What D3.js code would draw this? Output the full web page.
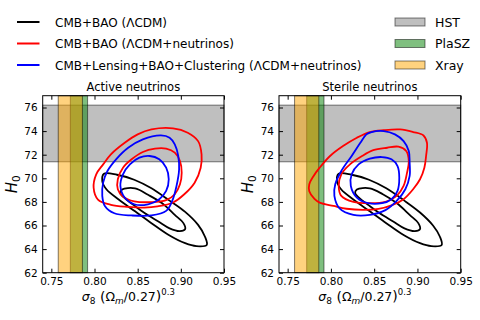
<!DOCTYPE html>
<html>
<head>
<meta charset="utf-8">
<title>H0 vs sigma8</title>
<script src="https://d3js.org/d3.v7.min.js"></script>
<style>
body { margin:0; background:#fff; }
text { font-family:"DejaVu Sans", sans-serif; }
</style>
</head>
<body>
<script>

var legendLabels = ["CMB+BAO (ΛCDM)", "CMB+BAO (ΛCDM+neutrinos)", "CMB+Lensing+BAO+Clustering (ΛCDM+neutrinos)"];
var lineColors = ["#000000", "#ff0000", "#0000ff"];
var bandLabels = ["HST", "PlaSZ", "Xray"];
var bandColors = ["#808080", "#008000", "#ffa500"];
var hstRange = [71.4, 76.2];     // H0
var plaszRange = [0.772, 0.792]; // sigma8 (Om/0.27)^0.3
var xrayRange = [0.758, 0.786];
var panelTitles = ["Active neutrinos", "Sterile neutrinos"];
var xTicks = [0.75, 0.80, 0.85, 0.90, 0.95];
var yTicks = [62, 64, 66, 68, 70, 72, 74, 76];
var xDomain = [0.74, 0.95];
var yDomain = [62, 77];

// contours: [sigma8 (Om/0.27)^0.3, H0]
var activeBlackOuter = [[0.811,70.38],[0.826,70.30],[0.846,69.88],[0.866,69.15],[0.886,68.15],[0.905,67.15],[0.920,66.05],[0.928,65.05],[0.930,64.35],[0.918,64.25],[0.905,64.50],[0.886,65.20],[0.866,66.20],[0.847,67.20],[0.828,68.20],[0.814,69.05],[0.809,69.75]];
var activeBlackInner = [[0.832,69.05],[0.847,69.15],[0.862,68.60],[0.878,67.90],[0.893,66.90],[0.903,66.20],[0.905,65.70],[0.899,65.52],[0.887,65.75],[0.874,66.33],[0.858,67.05],[0.845,67.75],[0.835,68.32],[0.830,68.75]];
var activeRedOuter = [[0.866,74.14],[0.891,74.23],[0.908,73.86],[0.920,73.15],[0.924,72.03],[0.923,70.90],[0.916,69.63],[0.904,68.65],[0.891,67.95],[0.873,67.62],[0.858,67.52],[0.839,67.58],[0.819,67.75],[0.804,68.20],[0.799,69.20],[0.802,70.34],[0.810,71.18],[0.819,72.03],[0.835,73.01],[0.850,73.72]];
var activeRedInner = [[0.870,72.51],[0.883,72.51],[0.893,72.17],[0.899,71.46],[0.901,70.48],[0.899,69.49],[0.893,68.65],[0.883,68.15],[0.866,67.98],[0.846,68.05],[0.833,68.45],[0.827,69.07],[0.827,69.92],[0.833,70.90],[0.843,71.61],[0.856,72.23]];
var activeBlueOuter = [[0.877,73.63],[0.887,73.44],[0.893,72.87],[0.897,71.89],[0.898,70.76],[0.895,69.35],[0.890,68.08],[0.883,67.24],[0.866,66.85],[0.843,66.85],[0.823,67.04],[0.812,67.66],[0.809,68.51],[0.810,69.63],[0.815,70.62],[0.825,71.61],[0.839,72.59],[0.856,73.30]];
var activeBlueInner = [[0.864,71.89],[0.875,71.61],[0.883,70.90],[0.886,69.92],[0.883,68.93],[0.875,68.23],[0.862,67.80],[0.846,67.80],[0.835,68.37],[0.830,69.35],[0.833,70.34],[0.841,71.18],[0.852,71.75]];

var sterileBlackOuter = [[0.809,70.38],[0.824,70.30],[0.844,69.88],[0.864,69.15],[0.884,68.15],[0.903,67.10],[0.918,66.00],[0.926,65.05],[0.928,64.35],[0.916,64.25],[0.903,64.50],[0.884,65.20],[0.864,66.20],[0.845,67.20],[0.826,68.20],[0.812,69.05],[0.807,69.75]];
var sterileBlackInner = [[0.830,69.05],[0.845,69.15],[0.860,68.65],[0.876,67.90],[0.891,66.90],[0.901,66.20],[0.903,65.70],[0.897,65.52],[0.885,65.75],[0.872,66.33],[0.856,67.05],[0.843,67.75],[0.833,68.32],[0.828,68.75]];
var sterileRedOuter = [[0.799,71.89],[0.814,72.73],[0.830,73.44],[0.845,73.92],[0.861,74.08],[0.880,74.14],[0.895,73.92],[0.907,73.63],[0.911,73.01],[0.910,71.89],[0.908,70.90],[0.903,69.92],[0.895,69.07],[0.884,68.23],[0.870,67.70],[0.855,67.40],[0.837,67.32],[0.818,67.42],[0.803,67.66],[0.787,67.94],[0.781,68.25],[0.775,68.90],[0.775,69.50],[0.780,70.20],[0.787,70.90]];
var sterileRedInner = [[0.865,72.59],[0.878,72.68],[0.887,72.31],[0.890,71.46],[0.888,70.48],[0.884,69.35],[0.876,68.51],[0.863,68.00],[0.845,67.89],[0.826,68.00],[0.812,68.51],[0.809,69.35],[0.812,70.34],[0.822,71.18],[0.836,71.89],[0.849,72.39]];
var sterileBlueOuter = [[0.847,73.92],[0.861,74.00],[0.874,73.72],[0.884,73.15],[0.890,72.31],[0.891,71.32],[0.891,70.20],[0.886,69.07],[0.876,68.08],[0.863,67.30],[0.845,66.90],[0.826,66.90],[0.810,67.45],[0.804,68.51],[0.805,69.49],[0.812,70.62],[0.824,71.89],[0.834,73.01],[0.841,73.72]];
var sterileBlueInner = [[0.859,71.80],[0.870,71.61],[0.877,71.04],[0.879,70.06],[0.877,68.93],[0.870,68.23],[0.859,67.89],[0.843,67.89],[0.830,68.37],[0.823,69.35],[0.824,70.34],[0.832,71.18],[0.845,71.66]];

var panels = [
  {title: panelTitles[0], left: 42.7, right: 224,
   contours: [[activeBlackOuter, activeBlackInner], [activeRedOuter, activeRedInner], [activeBlueOuter, activeBlueInner]]},
  {title: panelTitles[1], left: 279, right: 460.7,
   contours: [[sterileBlackOuter, sterileBlackInner], [sterileRedOuter, sterileRedInner], [sterileBlueOuter, sterileBlueInner]]}
];

var plotTop = 95.7, plotBottom = 272.7;

var svg = d3.select("body").append("svg")
    .attr("width", 480)
    .attr("height", 320);

panels.forEach(function(p) {
  var x = d3.scaleLinear().domain(xDomain).range([p.left, p.right]);
  var y = d3.scaleLinear().domain(yDomain).range([plotBottom, plotTop]);
  var g = svg.append("g");

  // bands: HST, PlaSZ, Xray (drawn in that order, alpha .5)
  var bands = [
    {x0: xDomain[0], x1: xDomain[1], y0: hstRange[0], y1: hstRange[1], c: bandColors[0]},
    {x0: plaszRange[0], x1: plaszRange[1], y0: yDomain[0], y1: yDomain[1], c: bandColors[1]},
    {x0: xrayRange[0], x1: xrayRange[1], y0: yDomain[0], y1: yDomain[1], c: bandColors[2]}
  ];
  g.selectAll("rect.band").data(bands).enter().append("rect")
      .attr("class", "band")
      .attr("x", function(d) { return x(d.x0); })
      .attr("width", function(d) { return x(d.x1) - x(d.x0); })
      .attr("y", function(d) { return y(d.y1); })
      .attr("height", function(d) { return y(d.y0) - y(d.y1); })
      .attr("fill", function(d) { return d.c; })
      .attr("fill-opacity", 0.5)
      .attr("stroke", "#000")
      .attr("stroke-opacity", 0.5)
      .attr("stroke-width", 1);

  var line = d3.line()
      .x(function(d) { return x(d[0]); })
      .y(function(d) { return y(d[1]); })
      .curve(d3.curveCatmullRomClosed.alpha(0.5));

  p.contours.forEach(function(pair, i) {
    pair.forEach(function(c) {
      g.append("path")
          .attr("d", line(c))
          .attr("fill", "none")
          .attr("stroke", lineColors[i])
          .attr("stroke-width", 1.8)
          .attr("stroke-linejoin", "round");
    });
  });

  // axes, ticks inside on all four sides
  var fmt = d3.format(".2f");
  var ax = g.append("g").attr("transform", "translate(0," + plotBottom + ")")
      .call(d3.axisBottom(x).tickValues(xTicks).tickFormat(fmt).tickSizeInner(-4).tickSizeOuter(0).tickPadding(5));
  var ay = g.append("g").attr("transform", "translate(" + p.left + ",0)")
      .call(d3.axisLeft(y).tickValues(yTicks).tickSizeInner(-4).tickSizeOuter(0).tickPadding(5));
  var at = g.append("g").attr("transform", "translate(0," + plotTop + ")")
      .call(d3.axisTop(x).tickValues(xTicks).tickFormat("").tickSizeInner(-4).tickSizeOuter(0));
  var ar = g.append("g").attr("transform", "translate(" + p.right + ",0)")
      .call(d3.axisRight(y).tickValues(yTicks).tickFormat("").tickSizeInner(-4).tickSizeOuter(0));
  [ax, ay, at, ar].forEach(function(a) {
    a.select(".domain").remove();
    a.selectAll("text").attr("font-size", 10.5).attr("fill", "#000")
        .style("font-family", "DejaVu Sans, sans-serif");
  });

  g.append("rect")
      .attr("x", p.left).attr("y", plotTop)
      .attr("width", p.right - p.left).attr("height", plotBottom - plotTop)
      .attr("fill", "none").attr("stroke", "#000").attr("stroke-width", 1);

  // title
  g.append("text")
      .attr("x", (p.left + p.right) / 2).attr("y", 91)
      .attr("text-anchor", "middle").attr("font-size", 11.5)
      .text(p.title);

  // y label H_0
  var yl = g.append("text")
      .attr("transform", "translate(" + (p.left - 26) + "," + ((plotTop + plotBottom) / 2) + ") rotate(-90)")
      .attr("text-anchor", "middle").attr("font-size", 15);
  yl.append("tspan").attr("font-style", "italic").text("H");
  yl.append("tspan").attr("font-size", 10.5).attr("dy", 3).text("0");

  // x label sigma_8 (Omega_m/0.27)^0.3
  var xl = g.append("text")
      .attr("x", (p.left + p.right) / 2 - 5).attr("y", 301)
      .attr("text-anchor", "middle").attr("font-size", 12.5);
  xl.append("tspan").attr("font-style", "italic").text("σ");
  xl.append("tspan").attr("font-size", 9).attr("dy", 3).text("8");
  xl.append("tspan").attr("font-size", 14).attr("dy", -2).text(" (");
  xl.append("tspan").attr("dy", -1).text("Ω");
  xl.append("tspan").attr("font-style", "italic").attr("font-size", 9).attr("dy", 3).text("m");
  xl.append("tspan").attr("dy", -3).text("/0.27");
  xl.append("tspan").attr("font-size", 14).text(")");
  xl.append("tspan").attr("font-size", 8.5).attr("dy", -6).text("0.3");
});

// legend, left: lines
var rowY = [22, 43.5, 65];
var lg = svg.append("g");
legendLabels.forEach(function(l, i) {
  lg.append("line")
      .attr("x1", 17).attr("x2", 39.5)
      .attr("y1", rowY[i]).attr("y2", rowY[i])
      .attr("stroke", lineColors[i]).attr("stroke-width", 2);
  lg.append("text")
      .attr("x", 55).attr("y", rowY[i] + 4.5)
      .attr("font-size", 12)
      .text(l);
});

// legend, right: band patches
bandLabels.forEach(function(l, i) {
  lg.append("rect")
      .attr("x", 395).attr("y", rowY[i] - 4)
      .attr("width", 30).attr("height", 8)
      .attr("fill", bandColors[i]).attr("fill-opacity", 0.5)
      .attr("stroke", "#000").attr("stroke-opacity", 0.5);
  lg.append("text")
      .attr("x", 435).attr("y", rowY[i] + 4.5)
      .attr("font-size", 12.5)
      .text(l);
});

</script>
</body>
</html>
